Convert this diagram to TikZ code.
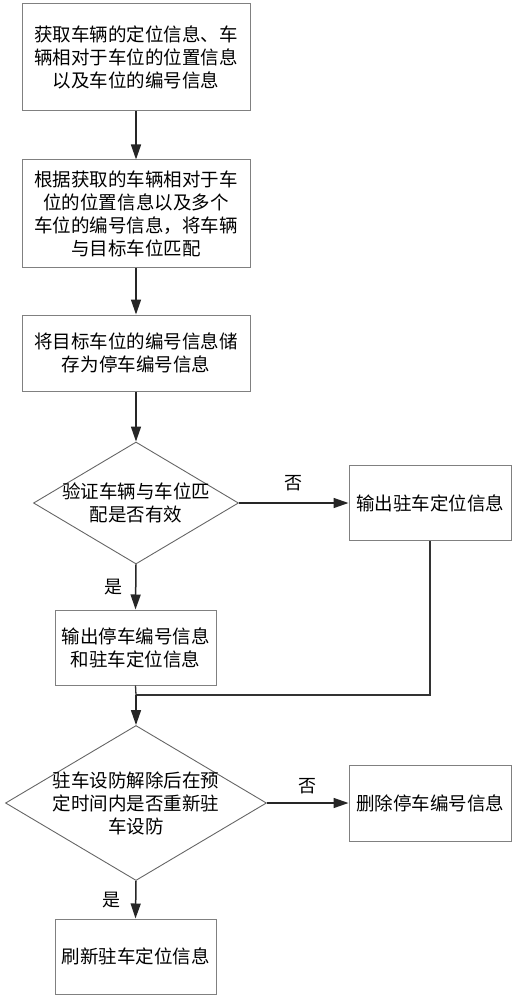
\documentclass[tikz,border=0pt]{standalone}
\usepackage{fontspec}
\setmainfont{Noto Sans CJK SC}
\usetikzlibrary{shapes.geometric,arrows.meta}
\tikzset{
  box/.style={draw=black!50, line width=1pt, rectangle, inner sep=0pt, align=center},
  dia/.style={draw=black!60, line width=0.9pt, diamond, inner sep=0pt},
  txt/.style={align=center, inner sep=0pt, font=\fontsize{18.5}{23}\selectfont},
  arr/.style={draw=black!85, line width=1.5pt, -{Triangle[width=10pt,length=15pt]}},
  ln/.style={draw=black!80, line width=1.3pt},
  lbl/.style={inner sep=0pt, font=\fontsize{18}{20}\selectfont}
}
\begin{document}
\begin{tikzpicture}[x=1pt,y=-1pt]
\useasboundingbox (0,0) rectangle (517,1000);
\node[box, minimum width=228pt, minimum height=107pt, txt] (b1) at (136,57.5) {获取车辆的定位信息、车\\辆相对于车位的位置信息\\以及车位的编号信息};
\node[box, minimum width=228pt, minimum height=107pt, txt] (b2) at (136,213.5) {根据获取的车辆相对于车\\位的位置信息以及多个\\车位的编号信息，将车辆\\与目标车位匹配};
\node[box, minimum width=228pt, minimum height=76pt, txt] (b3) at (136,353) {将目标车位的编号信息储\\存为停车编号信息};
\node[dia, minimum width=205pt, minimum height=122pt] (d1) at (136,503) {};
\node[txt] (d1t) at (d1.center) {验证车辆与车位匹\\配是否有效};
\node[box, minimum width=162pt, minimum height=75pt, txt] (b5) at (430,503) {输出驻车定位信息};
\node[box, minimum width=161pt, minimum height=75pt, txt] (b4) at (135.5,647.5) {输出停车编号信息\\和驻车定位信息};
\coordinate (m) at (136,695);
\node[dia, minimum width=261pt, minimum height=155pt] (d2) at (136,803) {};
\node[txt] (d2t) at (d2.center) {驻车设防解除后在预\\定时间内是否重新驻\\车设防};
\node[box, minimum width=162pt, minimum height=76pt, txt] (b6) at (430,803) {删除停车编号信息};
\node[box, minimum width=161pt, minimum height=75pt, txt] (b7) at (135.5,956.5) {刷新驻车定位信息};

\draw[arr] (b1.south) -- (b2.north);
\draw[arr] (b2.south) -- (b3.north);
\draw[arr] (b3.south) -- (d1.north);
\draw[arr] (d1.east) -- node[lbl, above=11pt] (n1) {否} (b5.west);
\draw[arr] (d1.south) -- node[lbl, left=13pt] (y1) {是} (b4.north);
\draw[ln] (b4.south) -- (m);
\draw[ln] (b5.south) |- (m);
\draw[arr] (m) -- (d2.north);
\draw[arr] (d2.east) -- node[lbl, above=8pt] (n2) {否} (b6.west);
\draw[arr] (d2.south) -- node[lbl, left=15pt] (y2) {是} (b7.north);
\end{tikzpicture}
\end{document}
